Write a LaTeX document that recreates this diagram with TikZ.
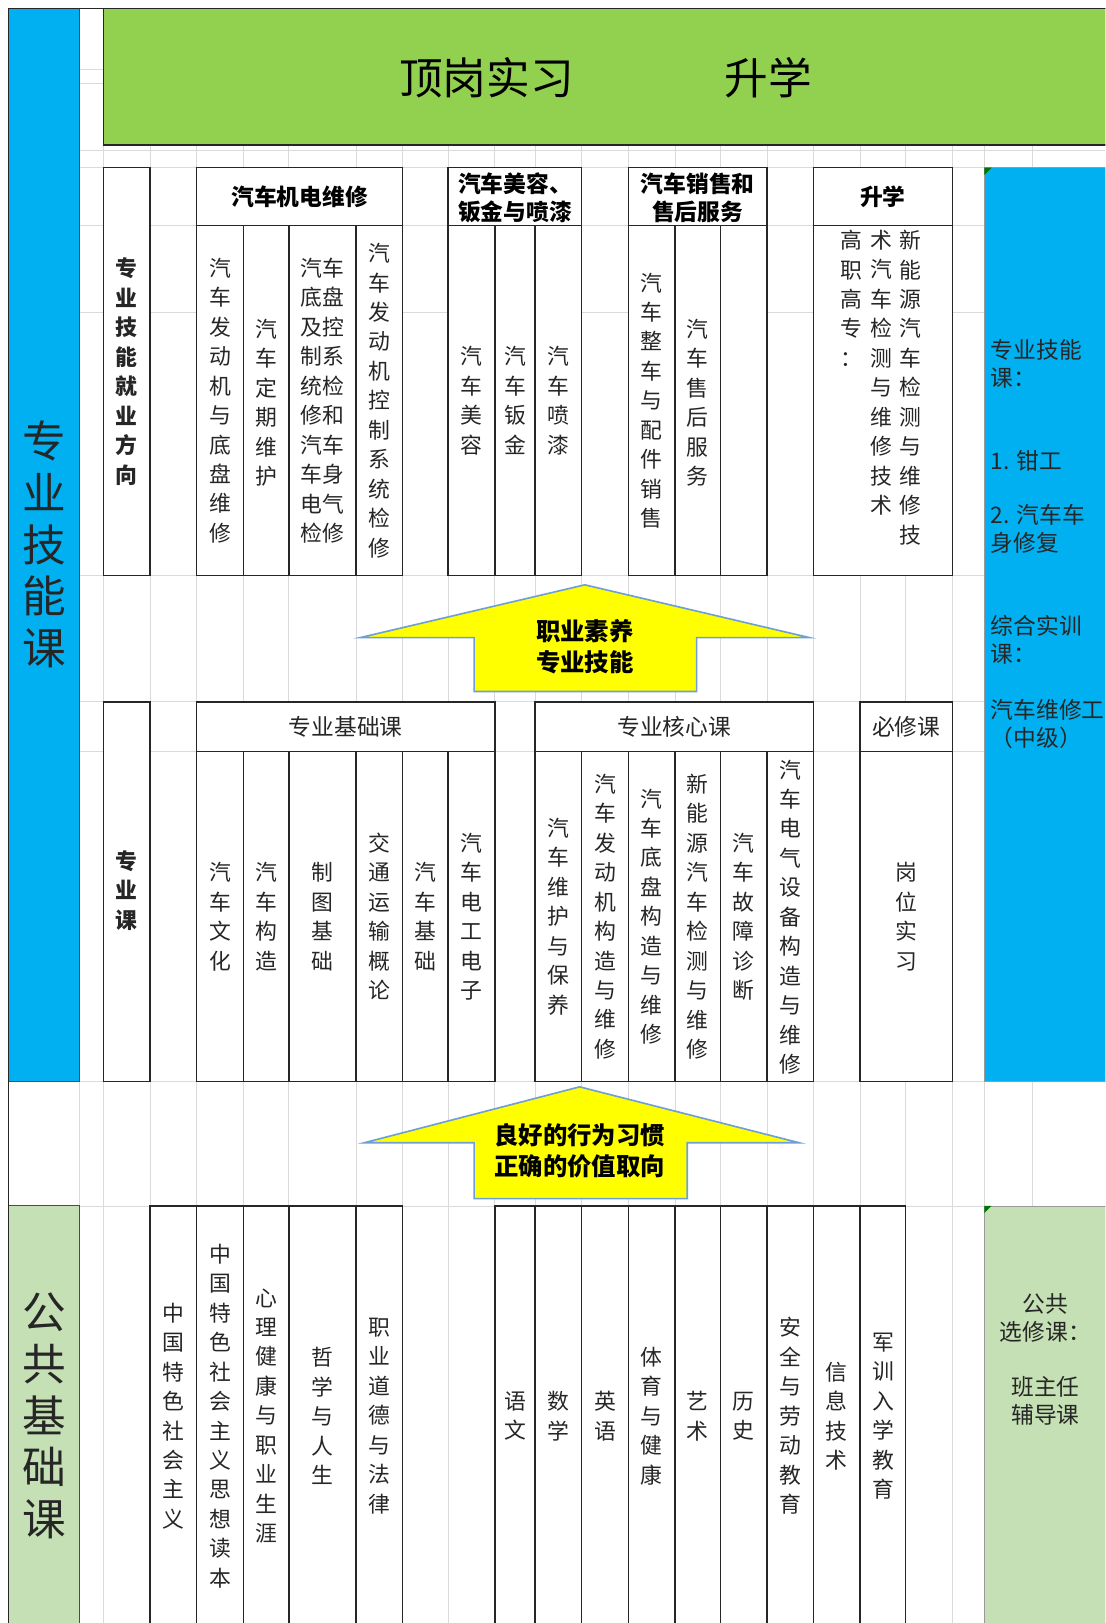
\documentclass[tikz,border=0pt]{standalone}
\usepackage{fontspec}
\setmainfont{Noto Sans CJK SC}
\XeTeXlinebreaklocale "zh"
\XeTeXlinebreakskip=0pt plus 1pt

\definecolor{skillblue}{HTML}{00B0F0}
\definecolor{topgreen}{HTML}{92D050}
\definecolor{basegreen}{HTML}{C5E0B4}
\definecolor{cellgrid}{HTML}{DADADA}
\definecolor{arrowrim}{HTML}{6E9FD6}
\definecolor{arrowfill}{HTML}{FFFF00}

\newcommand{\colfont}{\fontsize{12}{16.2}\selectfont}
\newcommand{\headfont}{\fontsize{12.5}{15.4}\selectfont}
\newcommand{\bigfont}{\fontsize{24}{28.5}\selectfont}

\begin{document}
\begin{tikzpicture}[x=0.02cm,y=-0.02cm,
    gridline/.style={cellgrid,line width=0.4pt},
    cell/.style={draw=black!85,fill=white,line width=0.8pt},
    coltext/.style={text width=12.5pt,align=center,inner sep=0pt,font=\colfont,text=black!85},
    boldcol/.style={coltext,font=\colfont\bfseries},
    headtext/.style={align=center,inner sep=0pt,font=\headfont\bfseries},
    subhead/.style={align=center,inner sep=0pt,font=\headfont,text=black!85},
    sidetext/.style={text width=24.5pt,align=center,inner sep=0pt,font=\bigfont,text=black!85},
    panetext/.style={align=left,inner sep=0pt,font=\headfont,anchor=west,text=black!85},
    arrowbody/.style={draw=arrowrim,fill=arrowfill,line width=0.9pt,line join=miter},
    arrowtext/.style={align=center,inner sep=0pt,font=\fontsize{13.4}{17}\selectfont\bfseries}]
          \useasboundingbox (0,0) rectangle (1068,1568);
          \clip (0,0) rectangle (1068,1568);

          \foreach \gx in {77,100,145,190,235,279,344,389,433,478,517,562,607,652,696,741,786,831,875,920,951,997}
            \draw[gridline] (\gx,8) -- (\gx,1568);
          \foreach \gy in {67,81,145,162,218,302,556,678,726,1045,1165}
            \draw[gridline] (8,\gy) -- (1068,\gy);

          \filldraw[fill=skillblue,draw=black!70,line width=0.6pt] (8,8) rectangle (77,1045);
          \filldraw[fill=basegreen,draw=black!70,line width=0.6pt] (8,1165) rectangle (77,1580);
          \filldraw[fill=topgreen,draw=black!85,line width=0.8pt] (100,8) rectangle (1080,140);
          \filldraw[fill=skillblue,draw=black!40,line width=0.4pt] (951,162) rectangle (1080,1045);
          \filldraw[fill=basegreen,draw=black!40,line width=0.4pt] (951,1165) rectangle (1080,1580);
          \fill[green!45!black] (951,162) -- (958,162) -- (951,169) -- cycle;
          \fill[green!45!black] (951,1165) -- (958,1165) -- (951,1172) -- cycle;
          \draw[black!85,line width=0.8pt] (8,1580) -- (8,8) -- (1068,8);

          \draw[cell] (100,162) rectangle (145,556);
          \draw[cell] (190,162) rectangle (389,218);
          \draw[cell] (433,162) rectangle (562,218);
          \draw[cell] (607,162) rectangle (741,218);
          \draw[cell] (786,162) rectangle (920,218);
          \foreach \xa/\xb in {190/235,235/279,279/344,344/389,433/478,478/517,517/562,607/652,652/696,696/741,786/920}
            \draw[cell] (\xa,218) rectangle (\xb,556);

          \draw[cell] (100,678) rectangle (145,1045);
          \draw[cell] (190,678) rectangle (478,726);
          \draw[cell] (517,678) rectangle (786,726);
          \draw[cell] (831,678) rectangle (920,726);
          \foreach \xa/\xb in {190/235,235/279,279/344,344/389,389/433,433/478,517/562,562/607,607/652,652/696,696/741,741/786,831/920}
            \draw[cell] (\xa,726) rectangle (\xb,1045);

          \foreach \xa/\xb in {145/190,190/235,235/279,279/344,344/389,478/517,517/562,562/607,607/652,652/696,696/741,741/786,786/831,831/875}
            \draw[cell] (\xa,1165) rectangle (\xb,1580);

          \draw[arrowbody] (565,565) -- (782,616) -- (673,616) -- (673,668) -- (458,668) -- (458,616) -- (348,616) -- cycle;
          \draw[arrowbody] (560,1050) -- (772,1104) -- (664,1104) -- (664,1158) -- (458,1158) -- (458,1104) -- (352,1104) -- cycle;

          \node[font=\fontsize{24}{28}\selectfont] (intern) at (470,75) {顶岗实习};
          \node[font=\fontsize{24}{28}\selectfont] (advance) at (742,75) {升学};

          \node[sidetext] (skillside) at (42.5,526) {专业技能课};
          \node[sidetext] (baseside) at (42.5,1368) {公共基础课};

          \node[boldcol] (track) at (122.5,359) {专业技能就业方向};
          \node[headtext] (mechead) at (289.5,190) {汽车机电维修};
          \node[coltext] (mec1) at (212.5,387) {汽车发动机与底盘维修};
          \node[coltext] (mec2) at (257,389) {汽车定期维护};
          \node[coltext,text width=25pt] (mec3) at (311.5,387) {汽车底盘及控制系统检修和汽车车身电气检修};
          \node[coltext] (mec4) at (366.5,387) {汽车发动机控制系统检修};
          \node[headtext] (bodyhead) at (497.5,191.5) {汽车美容、\\钣金与喷漆};
          \node[coltext] (body1) at (455.5,387) {汽车美容};
          \node[coltext] (body2) at (497.5,387) {汽车钣金};
          \node[coltext] (body3) at (539.5,387) {汽车喷漆};
          \node[headtext] (salehead) at (674,191.5) {汽车销售和\\售后服务};
          \node[coltext] (sale1) at (629.5,387) {汽车整车与配件销售};
          \node[coltext] (sale2) at (674,389) {汽车售后服务};
          \node[headtext] (risehead) at (853,190) {升学};
          \node[coltext,anchor=north] (rise1) at (823,222) {高\\职\\高\\专\\：};
          \node[coltext,anchor=north] (rise2) at (852,222) {术汽车检测与维修技术};
          \node[coltext,anchor=north] (rise3) at (880,222) {新能源汽车检测与维修技};

          \node[arrowtext] (upskill) at (565,625) {职业素养\\专业技能};

          \node[boldcol] (major) at (122.5,860) {专业课};
          \node[subhead] (basehead) at (334,702) {专业基础课};
          \node[coltext] (base1) at (212.5,885.5) {汽车文化};
          \node[coltext] (base2) at (257,885.5) {汽车构造};
          \node[coltext] (base3) at (311.5,885.5) {制图基础};
          \node[coltext] (base4) at (366.5,885.5) {交通运输概论};
          \node[coltext] (base5) at (411,885.5) {汽车基础};
          \node[coltext] (base6) at (455.5,885.5) {汽车电工电子};
          \node[subhead] (corehead) at (651.5,702) {专业核心课};
          \node[coltext] (core1) at (539.5,885.5) {汽车维护与保养};
          \node[coltext] (core2) at (584.5,885.5) {汽车发动机构造与维修};
          \node[coltext] (core3) at (629.5,885.5) {汽车底盘构造与维修};
          \node[coltext] (core4) at (674,885.5) {新能源汽车检测与维修};
          \node[coltext] (core5) at (718.5,885.5) {汽车故障诊断};
          \node[coltext] (core6) at (763.5,886) {汽车电气设备构造与维修};
          \node[subhead] (musthead) at (875.5,702) {必修课};
          \node[coltext] (must1) at (875.5,885.5) {岗位实习};

          \node[arrowtext] (upvalue) at (560,1112) {良好的行为习惯\\正确的价值取向};

          \node[coltext] (pub1) at (167.5,1368) {中国特色社会主义};
          \node[coltext] (pub2) at (212.5,1368) {中国特色社会主义思想读本};
          \node[coltext] (pub3) at (257,1368) {心理健康与职业生涯};
          \node[coltext] (pub4) at (311.5,1368) {哲学与人生};
          \node[coltext] (pub5) at (366.5,1368) {职业道德与法律};
          \node[coltext] (pub6) at (497.5,1368) {语文};
          \node[coltext] (pub7) at (539.5,1368) {数学};
          \node[coltext] (pub8) at (584.5,1368) {英语};
          \node[coltext] (pub9) at (629.5,1368) {体育与健康};
          \node[coltext] (pub10) at (674,1368) {艺术};
          \node[coltext] (pub11) at (718.5,1368) {历史};
          \node[coltext] (pub12) at (763.5,1368) {安全与劳动教育};
          \node[coltext] (pub13) at (808.5,1368) {信息技术};
          \node[coltext] (pub14) at (853,1368) {军训入学教育};

          \node[panetext] (skillnote) at (957,351.5) {专业技能\\课：};
          \node[panetext] (fitter) at (957,445) {1. 钳工};
          \node[panetext] (repair) at (957,510.5) {2. 汽车车\\身修复};
          \node[panetext] (trainnote) at (957,618.5) {综合实训\\课：};
          \node[panetext] (mechanic) at (957,699.5) {汽车维修工\\（中级）};

          \node[align=center,inner sep=0pt,font=\headfont,text=black!85] (electnote) at (1010,1273.5) {公共\\选修课：};
          \node[align=center,inner sep=0pt,font=\headfont,text=black!85] (tutor) at (1010,1353) {班主任\\辅导课};
        \end{tikzpicture}
\end{document}
